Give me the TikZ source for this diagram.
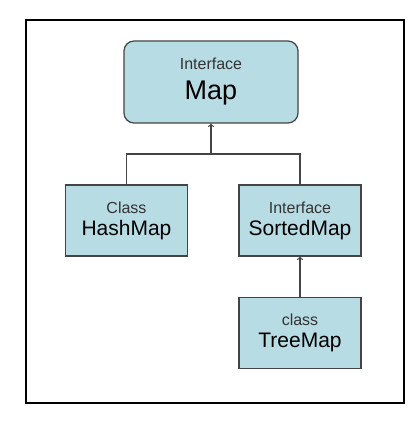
\documentclass[tikz,border=0pt]{standalone}
\usepackage{fontspec}
\setmainfont{Liberation Sans}
\usepackage{xcolor}
\usetikzlibrary{positioning}
\definecolor{boxfill}{HTML}{B8DCE4}
\definecolor{boxline}{HTML}{444444}
\definecolor{kindtext}{HTML}{333333}
\tikzstyle{iface} = [rectangle, rounded corners=10pt, minimum width=174pt, minimum height=82pt, inner sep=0pt, align=center, font=\fontsize{16}{30}\selectfont, fill=boxfill, draw=boxline, line width=1.2pt]
\tikzstyle{cls} = [rectangle, minimum width=122pt, minimum height=71pt, inner sep=0pt, align=center, font=\fontsize{16}{22}\selectfont, fill=boxfill, draw=boxline, line width=1.2pt]
\tikzstyle{line} = [draw=boxline, line width=1.2pt]
\tikzstyle{arrow} = [line, ->, >=to]
\newcommand{\kind}[1]{\fontsize{16}{19}\selectfont\textcolor{kindtext}{#1}}
\newcommand{\tname}[1]{\fontsize{21}{22}\selectfont #1}
\begin{document}
\begin{tikzpicture}[x=1pt,y=-1pt]
		\useasboundingbox (0,0) rectangle (415,444);
		\draw [black, line width=1.3pt] (26,20) rectangle (404,403);
		\node (map) [iface] at (211,82) {\kind{Interface}\\\fontsize{27}{30}\selectfont Map};
		\node (hashmap) [cls] at (126.5,220.5) {\kind{Class}\\\tname{HashMap}};
		\node (sortedmap) [cls] at (300,220.5) {\kind{Interface}\\\tname{SortedMap}};
		\node (treemap) [cls, below=40pt of sortedmap] {\kind{class}\\\tname{TreeMap}};
		\coordinate (junc) at (211,154);
		\draw [line](hashmap.north) |- (junc) -| (sortedmap.north);
		\draw [arrow](junc) -- (map.south);
		\draw [arrow](treemap.north) -- (sortedmap.south);
	\end{tikzpicture}
\end{document}
